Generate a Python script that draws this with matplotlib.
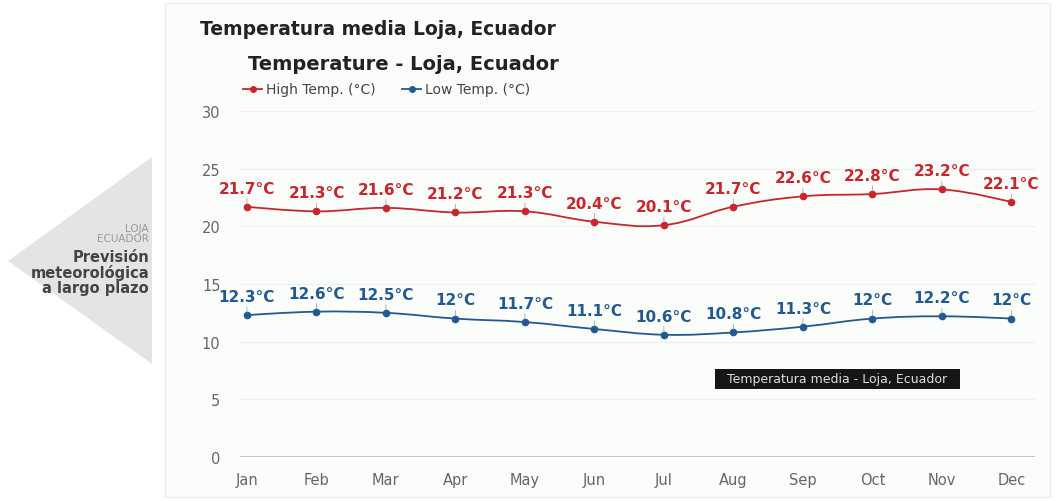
import matplotlib.pyplot as plt
from matplotlib.path import Path
from matplotlib.patches import PathPatch, Polygon, Rectangle

plt.rcParams['font.family'] = ['DejaVu Sans']

# --- datos ---
meses = ["Jan", "Feb", "Mar", "Apr", "May", "Jun",
         "Jul", "Aug", "Sep", "Oct", "Nov", "Dec"]
temp_alta = [21.7, 21.3, 21.6, 21.2, 21.3, 20.4, 20.1, 21.7, 22.6, 22.8, 23.2, 22.1]
temp_baja = [12.3, 12.6, 12.5, 12.0, 11.7, 11.1, 10.6, 10.8, 11.3, 12.0, 12.2, 12.0]
etiquetas_alta = ["21.7°C", "21.3°C", "21.6°C", "21.2°C", "21.3°C", "20.4°C",
                  "20.1°C", "21.7°C", "22.6°C", "22.8°C", "23.2°C", "22.1°C"]
etiquetas_baja = ["12.3°C", "12.6°C", "12.5°C", "12°C", "11.7°C", "11.1°C",
                  "10.6°C", "10.8°C", "11.3°C", "12°C", "12.2°C", "12°C"]
y_ticks = [0, 5, 10, 15, 20, 25, 30]

ROJO = "#c8262d"
AZUL = "#225a8f"
W, H = 1057, 502


def px(x, y):
    # pixeles -> fracción de figura
    return x / W, 1 - y / H


def spline_path(xs, ys, smoothing=1.5):
    # curva tipo "spline" con segmentos bezier cúbicos
    verts = [(xs[0], ys[0])]
    codes = [Path.MOVETO]
    n = len(xs)
    ctrl = []
    for i in range(n):
        if i == 0 or i == n - 1:
            ctrl.append(((xs[i], ys[i]), (xs[i], ys[i])))
            continue
        lx = (smoothing * xs[i] + xs[i - 1]) / (smoothing + 1)
        ly = (smoothing * ys[i] + ys[i - 1]) / (smoothing + 1)
        rx = (smoothing * xs[i] + xs[i + 1]) / (smoothing + 1)
        ry = (smoothing * ys[i] + ys[i + 1]) / (smoothing + 1)
        if rx != lx:
            slope = (ry - ly) / (rx - lx)
            corr = ly - (slope * (lx - xs[i]) + ys[i])
            ly -= corr
            ry -= corr
        ctrl.append(((lx, ly), (rx, ry)))
    for i in range(1, n):
        verts += [ctrl[i - 1][1], ctrl[i][0], (xs[i], ys[i])]
        codes += [Path.CURVE4] * 3
    return Path(verts, codes)


fig = plt.figure(figsize=(W / 100, H / 100), dpi=100)
fig.patch.set_facecolor("white")

# tarjeta de fondo y flecha gris a la izquierda
fig.patches.append(Rectangle(px(165, 498), (1050 - 165) / W, 494 / H,
                             transform=fig.transFigure, facecolor="#fbfdfb",
                             edgecolor="#ececec", lw=1, zorder=-2))
fig.patches.append(Polygon([px(8, 262), px(152, 158), px(152, 365)],
                           closed=True, transform=fig.transFigure,
                           facecolor="#e4e4e4", edgecolor="none", zorder=-1))

fig.text(*px(149, 229), "LOJA", ha="right", va="center", fontsize=7.5, color="#999999")
fig.text(*px(149, 239), "ECUADOR", ha="right", va="center", fontsize=7.5, color="#999999")
for y, t in [(257, "Previsión"), (273, "meteorológica"), (289, "a largo plazo")]:
    fig.text(*px(149, y), t, ha="right", va="center", fontsize=10.5,
             fontweight="bold", color="#444444")

fig.text(*px(200, 30), "Temperatura media Loja, Ecuador", ha="left", va="center",
         fontsize=13.5, fontweight="bold", color="#222222")
fig.text(*px(248, 65), "Temperature - Loja, Ecuador", ha="left", va="center",
         fontsize=14, fontweight="bold", color="#222222")

# ejes del gráfico
ax = fig.add_axes([240 / W, 1 - 458 / H, 795 / W, 346 / H])
ax.set_facecolor("none")
ax.set_xlim(-0.1, 11.34)
ax.set_ylim(0, 30)
for s in ax.spines.values():
    s.set_visible(False)
ax.set_yticks(y_ticks)
ax.set_yticklabels([str(v) for v in y_ticks])
ax.set_xticks(range(len(meses)))
ax.set_xticklabels(meses)
ax.tick_params(axis="both", length=0, labelsize=10.5, colors="#666666")
ax.tick_params(axis="y", pad=14)
ax.tick_params(axis="x", pad=11)
for v in y_ticks[1:]:
    ax.axhline(v, color="#eef1ee", lw=1, zorder=1)
ax.axhline(0, color="#bbbbbb", lw=1.2, zorder=2)

x = list(range(len(meses)))
for vals, labs, col in [(temp_alta, etiquetas_alta, ROJO),
                        (temp_baja, etiquetas_baja, AZUL)]:
    ax.add_patch(PathPatch(spline_path(x, vals), facecolor="none",
                           edgecolor=col, lw=1.3, zorder=3))
    ax.plot(x, vals, "o", color=col, markersize=4.5, zorder=4)
    for i, (v, t) in enumerate(zip(vals, labs)):
        ax.annotate(t, xy=(i, v), xytext=(0, 8), textcoords="offset points",
                    ha="center", va="bottom", fontsize=11, fontweight="bold",
                    color=col, zorder=5,
                    arrowprops=dict(arrowstyle="-", lw=0.5, color="#999999",
                                    shrinkA=0, shrinkB=2))

# leyenda
for x0, col, txt in [(243, ROJO, "High Temp. (°C)"), (402, AZUL, "Low Temp. (°C)")]:
    fig.lines.append(plt.Line2D([x0 / W, (x0 + 19) / W], [1 - 90 / H] * 2,
                                transform=fig.transFigure, color=col, lw=1.3))
    fig.lines.append(plt.Line2D([(x0 + 9.5) / W], [1 - 90 / H], marker="o",
                                markersize=4, transform=fig.transFigure, color=col))
    fig.text(*px(x0 + 23, 90), txt, ha="left", va="center", fontsize=10, color="#444444")

# recuadro negro del tooltip
fig.patches.append(Rectangle(px(715, 390), 245 / W, 20 / H, transform=fig.transFigure,
                             facecolor="#161616", edgecolor="none", zorder=6))
fig.text(*px(837, 380), "Temperatura media - Loja, Ecuador", ha="center", va="center",
         fontsize=9, color="#dddddd", zorder=7)

fig.savefig("out.png", dpi=100)
